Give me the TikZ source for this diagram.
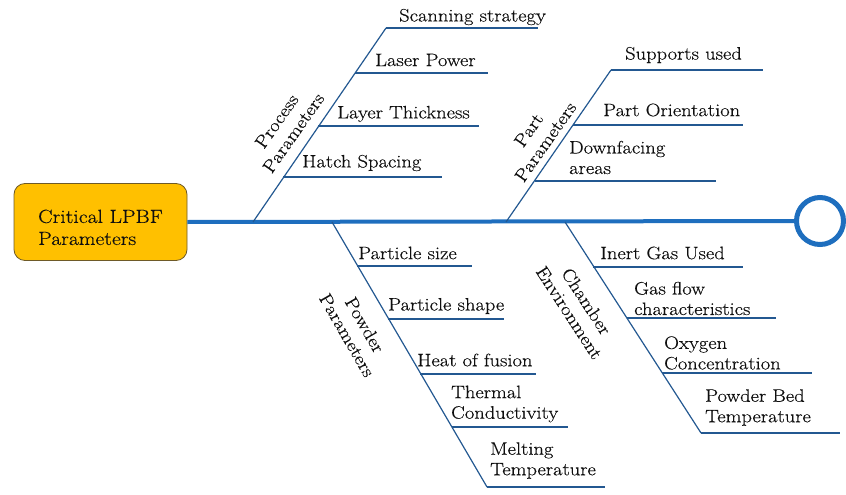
\documentclass[tikz,border=0pt]{standalone}
\usepackage{fontspec}
\setmainfont{Latin Modern Roman}[FakeStretch=1.14,FakeBold=0.35]
\definecolor{bonec}{RGB}{35,88,145}
\definecolor{spinec}{RGB}{30,110,190}
\definecolor{boxfill}{RGB}{255,192,0}
\definecolor{boxdraw}{RGB}{110,90,40}
\definecolor{txt}{RGB}{15,15,15}
\begin{document}
\begin{tikzpicture}[x=1pt,y=-1pt,
  bone/.style={draw=bonec, line width=1.2pt},
  spine/.style={draw=spinec, line width=4pt},
  lbl/.style={inner sep=0pt, anchor=west, align=left, font=\fontsize{18}{20.5}\selectfont, text=txt},
  cat/.style={inner sep=0pt, align=center, font=\fontsize{18}{20.5}\selectfont, text=txt},
  mainbox/.style={draw=boxdraw, line width=0.8pt, fill=boxfill, rounded corners=11pt,
    minimum width=173pt, minimum height=77pt, align=left, inner sep=0pt,
    font=\fontsize{19}{22}\selectfont, text=txt},
  head/.style={circle, draw=spinec, line width=5pt, minimum size=47pt, inner sep=0pt},
]
\useasboundingbox (0,0) rectangle (846,495);

% main box, head and spine
\node[mainbox] (box) at (100.5,222) {\rule{0pt}{24pt}Critical LPBF\\Parameters};
\node[head] (head) at (820,221) {};
\draw[spine] (box.east) -- (head.west);

% ---------- Process Parameters ----------
\coordinate (pr0) at (253,222); \coordinate (pr1) at (386,28);
\draw[bone] (pr0) -- (pr1);
\coordinate (pra1) at (386,28);  \coordinate (prb1) at (538,28);
\coordinate (pra2) at (355,73);  \coordinate (prb2) at (488,73);
\coordinate (pra3) at (318,126); \coordinate (prb3) at (479,126);
\coordinate (pra4) at (283,177); \coordinate (prb4) at (442,177);
\draw[bone] (pra1) -- (prb1);
\draw[bone] (pra2) -- (prb2);
\draw[bone] (pra3) -- (prb3);
\draw[bone] (pra4) -- (prb4);
\node[lbl] (t11) at (399,17) {Scanning strategy};
\node[lbl] (t12) at (375,60) {Laser Power};
\node[lbl] (t13) at (337,114) {Layer Thickness};
\node[lbl] (t14) at (302,163) {Hatch Spacing};
\node[cat, rotate=55] (c1) at (285,127) {Process\\Parameters};

% ---------- Part Parameters ----------
\coordinate (pa0) at (506,222); \coordinate (pa1) at (611,70);
\draw[bone] (pa0) -- (pa1);
\coordinate (paa1) at (611,70);  \coordinate (pab1) at (763,70);
\coordinate (paa2) at (573,125); \coordinate (pab2) at (743,125);
\coordinate (paa3) at (535,181); \coordinate (pab3) at (716,181);
\draw[bone] (paa1) -- (pab1);
\draw[bone] (paa2) -- (pab2);
\draw[bone] (paa3) -- (pab3);
\node[lbl] (t21) at (625,55) {Supports used};
\node[lbl] (t22) at (603,110) {Part Orientation};
\node[lbl] (t23) at (569,157.5) {Downfacing\\areas};
\node[cat, rotate=55] (c2) at (537,136) {Part\\Parameters};

% ---------- Powder Parameters ----------
\coordinate (po0) at (332,222); \coordinate (po1) at (487,487);
\draw[bone] (po0) -- (po1);
\coordinate (poa1) at (357,266); \coordinate (pob1) at (472,266);
\coordinate (poa2) at (388,319); \coordinate (pob2) at (504,319);
\coordinate (poa3) at (420,374); \coordinate (pob3) at (536,374);
\coordinate (poa4) at (452,427); \coordinate (pob4) at (568,427);
\coordinate (poa5) at (487,487); \coordinate (pob5) at (605,487);
\draw[bone] (poa1) -- (pob1);
\draw[bone] (poa2) -- (pob2);
\draw[bone] (poa3) -- (pob3);
\draw[bone] (poa4) -- (pob4);
\draw[bone] (poa5) -- (pob5);
\node[lbl] (t31) at (358,253) {Particle size};
\node[lbl] (t32) at (388,306) {Particle shape};
\node[lbl] (t33) at (417,360) {Heat of fusion};
\node[lbl] (t34) at (451,404) {Thermal\\Conductivity};
\node[lbl] (t35) at (490,460.5) {Melting\\Temperature};
\node[cat, rotate=-60] (c3) at (356,330) {Powder\\Parameters};

% ---------- Chamber Environment ----------
\coordinate (ch0) at (565,222); \coordinate (ch1) at (701,433);
\draw[bone] (ch0) -- (ch1);
\coordinate (cha1) at (593,267); \coordinate (chb1) at (743,267);
\coordinate (cha2) at (627,318); \coordinate (chb2) at (776,318);
\coordinate (cha3) at (662,373); \coordinate (chb3) at (812,373);
\coordinate (cha4) at (701,433); \coordinate (chb4) at (840,433);
\draw[bone] (cha1) -- (chb1);
\draw[bone] (cha2) -- (chb2);
\draw[bone] (cha3) -- (chb3);
\draw[bone] (cha4) -- (chb4);
\node[lbl] (t41) at (600,253) {Inert Gas Used};
\node[lbl] (t42) at (634,298.5) {Gas flow\\characteristics};
\node[lbl] (t43) at (664,353) {Oxygen\\Concentration};
\node[lbl] (t44) at (705,407.5) {Powder Bed\\Temperature};
\node[cat, rotate=-57] (c4) at (578,307) {Chamber\\Environment};
\end{tikzpicture}
\end{document}
